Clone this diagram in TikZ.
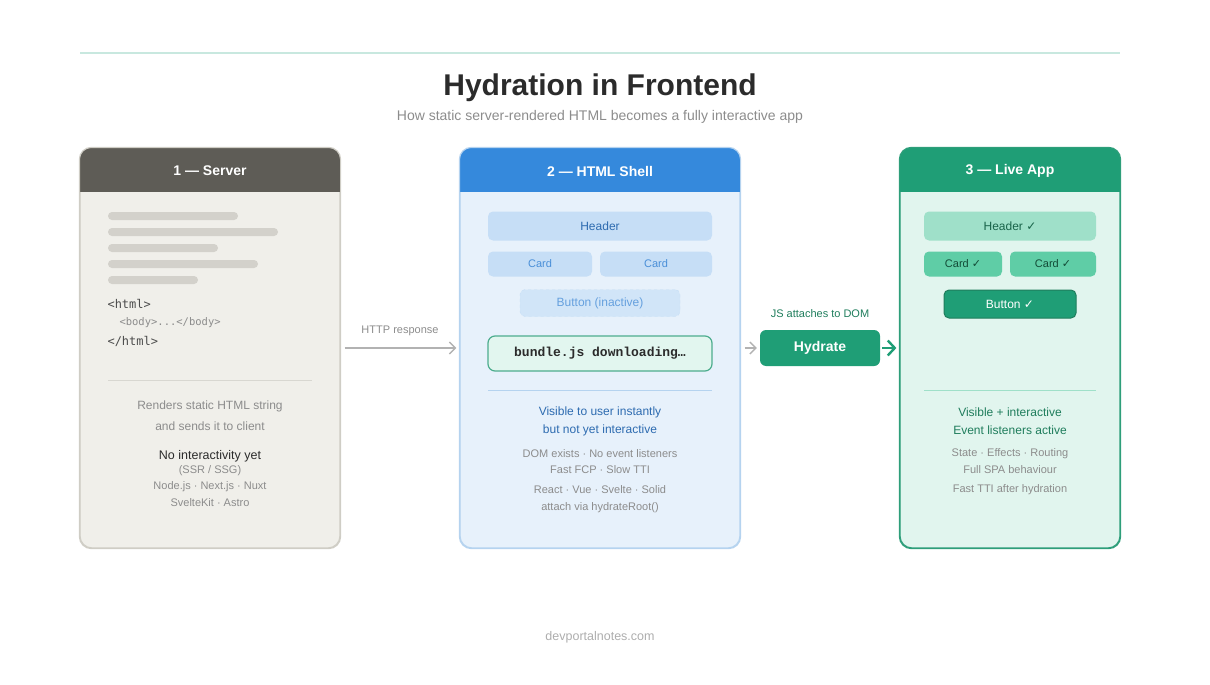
\documentclass[tikz,border=0pt]{standalone}
\usepackage{fontspec}
\setmainfont{Liberation Sans}
\setmonofont{DejaVu Sans Mono}
\newfontfamily\bundlefont{Liberation Mono}
\newfontfamily\symfont{DejaVu Sans}
\usepackage{tikz}
\usetikzlibrary{arrows.meta}

\definecolor{topline}{HTML}{C8E8DF}
\definecolor{inkdark}{HTML}{2B2B2B}
\definecolor{inkgray}{HTML}{8C8C8C}
\definecolor{srvhead}{HTML}{5E5C56}
\definecolor{srvbody}{HTML}{F0EFEA}
\definecolor{srvline}{HTML}{CFCDC5}
\definecolor{srvbar}{HTML}{D3D1CB}
\definecolor{shellhead}{HTML}{3589DC}
\definecolor{shellbody}{HTML}{E7F1FB}
\definecolor{shellline}{HTML}{B5D3EF}
\definecolor{shelltile}{HTML}{C6DEF6}
\definecolor{shellink}{HTML}{2D6BB0}
\definecolor{cardink}{HTML}{4A8FD8}
\definecolor{livehead}{HTML}{1F9E76}
\definecolor{livebody}{HTML}{E1F5EE}
\definecolor{liveline}{HTML}{2E9E7A}
\definecolor{livetile}{HTML}{9FE0C9}
\definecolor{livecard}{HTML}{5FCDA6}
\definecolor{liveink}{HTML}{1F7D5C}
\definecolor{bundlebg}{HTML}{E2F6EF}

\newcommand{\okmark}{{\symfont\char"2713}}
\newcommand{\fsz}[1]{\fontsize{#1}{#1}\selectfont}

\begin{document}
\begin{tikzpicture}[x=1pt,y=-1pt,
  panel/.style={draw, rounded corners=12pt, line width=1.2pt, minimum width=#1, minimum height=400pt, inner sep=0pt},
  headtitle/.style={text=white, font=\bfseries\fsz{14}},
  tile/.style={rounded corners=5pt, inner sep=0pt, minimum width=#1},
  small/.style={font=\fsz{11}},
  note/.style={font=\fsz{12}},
  flow/.style={draw=#1, line width=1.4pt, -{Straight Barb[length=6pt,width=12pt]}, shorten <=4pt, shorten >=3pt}]
\useasboundingbox (0,0) rectangle (1210,685);

% title
\draw[topline, line width=2.5pt] (80,53) -- (1120,53);
\node[text=inkdark, font=\bfseries\fsz{30}] (title) at (600,88) {Hydration in Frontend};
\node[text=inkgray, font=\fsz{14}] (subtitle) at (600,117) {How static server-rendered HTML becomes a fully interactive app};

% the three panels
\foreach \name/\cx/\w/\hd/\bd/\ln/\label in {
  server/210/260pt/srvhead/srvbody/srvline/{1 --- Server},
  shell/600/280pt/shellhead/shellbody/shellline/{2 --- HTML Shell},
  live/1010/220pt/livehead/livebody/liveline/{3 --- Live App}} {
  \node[panel=\w, fill=\bd, draw=\ln] (\name) at (\cx,348) {};
  \begin{scope}
    \clip[rounded corners=12pt] (\name.north west) rectangle (\name.south east);
    \fill[\hd] (\name.north west) rectangle ([yshift=-45pt]\name.north east);
  \end{scope}
  \draw[\ln, line width=1.2pt, rounded corners=12pt] (\name.north west) rectangle (\name.south east);
  \node[headtitle] (\name-title) at (\cx,171) {\label};
}

% server: rendered string
\foreach \y/\w in {216/130,232/170,248/110,264/150,280/90}
  \fill[srvbar, rounded corners=4pt] (108,\y-4) rectangle ++(\w,8);
\node[anchor=west, text=black!70, font=\ttfamily\fsz{12}] (html-open) at (104,304) {<html>};
\node[anchor=west, text=inkgray, font=\ttfamily\fsz{10.5}] (html-body) at (116,323) {<body>...</body>};
\node[anchor=west, text=black!70, font=\ttfamily\fsz{12}] (html-close) at (104,341) {</html>};
\draw[srvline!80, line width=1pt] (108,380) -- (312,380);
\foreach \y/\t in {406/{Renders static HTML string},426/{and sends it to client}}
  \node[note, text=inkgray] at (210,\y) {\t};
\node[note, font=\fsz{12.5}, text=inkdark] (srv-noint) at (210,456) {No interactivity yet};
\foreach \y/\t in {471/{(SSR / SSG)},487/{Node.js · Next.js · Nuxt},503/{SvelteKit · Astro}}
  \node[small, text=inkgray] at (210,\y) {\t};

% shell: static markup
\node[tile=224pt, fill=shelltile, minimum height=29pt, text=shellink, font=\fsz{12}] (sh-header) at (600,226) {Header};
\node[tile=104pt, fill=shelltile, minimum height=25pt, text=cardink, font=\fsz{11}] (sh-card1) at (540,264) {Card};
\node[tile=112pt, fill=shelltile, minimum height=25pt, text=cardink, font=\fsz{11}] (sh-card2) at (656,264) {Card};
\node[tile=160pt, fill=shelltile!80, draw=shelltile, dashed, minimum height=27pt, text=cardink!85, font=\fsz{12}] (sh-button) at (600,303) {Button (inactive)};
\node[tile=224pt, fill=bundlebg, draw=liveline!85, line width=1.2pt, rounded corners=7pt, minimum height=35pt, text=inkdark, font=\bundlefont\bfseries\fsz{13}] (bundle) at (600,353.5) {bundle.js downloading…};
\draw[shellline, line width=1pt] (488,390) -- (712,390);
\foreach \y/\t in {412/{Visible to user instantly},430/{but not yet interactive}}
  \node[note, text=shellink] at (600,\y) {\t};
\foreach \y/\t in {454/{DOM exists · No event listeners},470/{Fast FCP · Slow TTI},490/{React · Vue · Svelte · Solid},508/{attach via hydrateRoot()}}
  \node[small, text=inkgray] at (600,\y) {\t};

% live app: hydrated markup
\node[tile=172pt, fill=livetile, minimum height=29pt, text=liveink!80!black, font=\fsz{12}] (lv-header) at (1010,226) {Header \okmark};
\node[tile=78pt, fill=livecard, minimum height=25pt, text=liveink!60!black, font=\fsz{11}] (lv-card1) at (963,264) {Card \okmark};
\node[tile=86pt, fill=livecard, minimum height=25pt, text=liveink!60!black, font=\fsz{11}] (lv-card2) at (1053,264) {Card \okmark};
\node[tile=132pt, fill=livehead, draw=liveink, line width=1pt, minimum height=28pt, text=white, font=\fsz{12}] (lv-button) at (1010,304) {Button \okmark};
\draw[livetile, line width=1pt] (924,390) -- (1096,390);
\foreach \y/\t in {412/{Visible + interactive},430/{Event listeners active}}
  \node[note, text=liveink] at (1010,\y) {\t};
\foreach \y/\t in {454/{State · Effects · Routing},470/{Full SPA behaviour},490/{Fast TTI after hydration}}
  \node[small, text=inkgray] at (1010,\y) {\t};

% hydration step
\node[tile=120pt, fill=livehead, rounded corners=6pt, minimum height=36pt, text=white, font=\bfseries\fsz{14}] (hydrate) at (820,348) {Hydrate};
\node[small, text=liveink] (js-label) at (820,314) {JS attaches to DOM};
\node[small, text=inkgray] (http-label) at (400,331) {HTTP response};

\draw[flow=black!30] (server) -- (shell);
\draw[flow=black!30] (shell) -- (hydrate);
\draw[flow=livehead, line width=2.4pt, shorten <=2pt, -{Straight Barb[length=7pt,width=15pt]}] (hydrate) -- (live);

\node[text=black!32, font=\fsz{12.5}] (footer) at (600,637) {devportalnotes.com};
\end{tikzpicture}
\end{document}
